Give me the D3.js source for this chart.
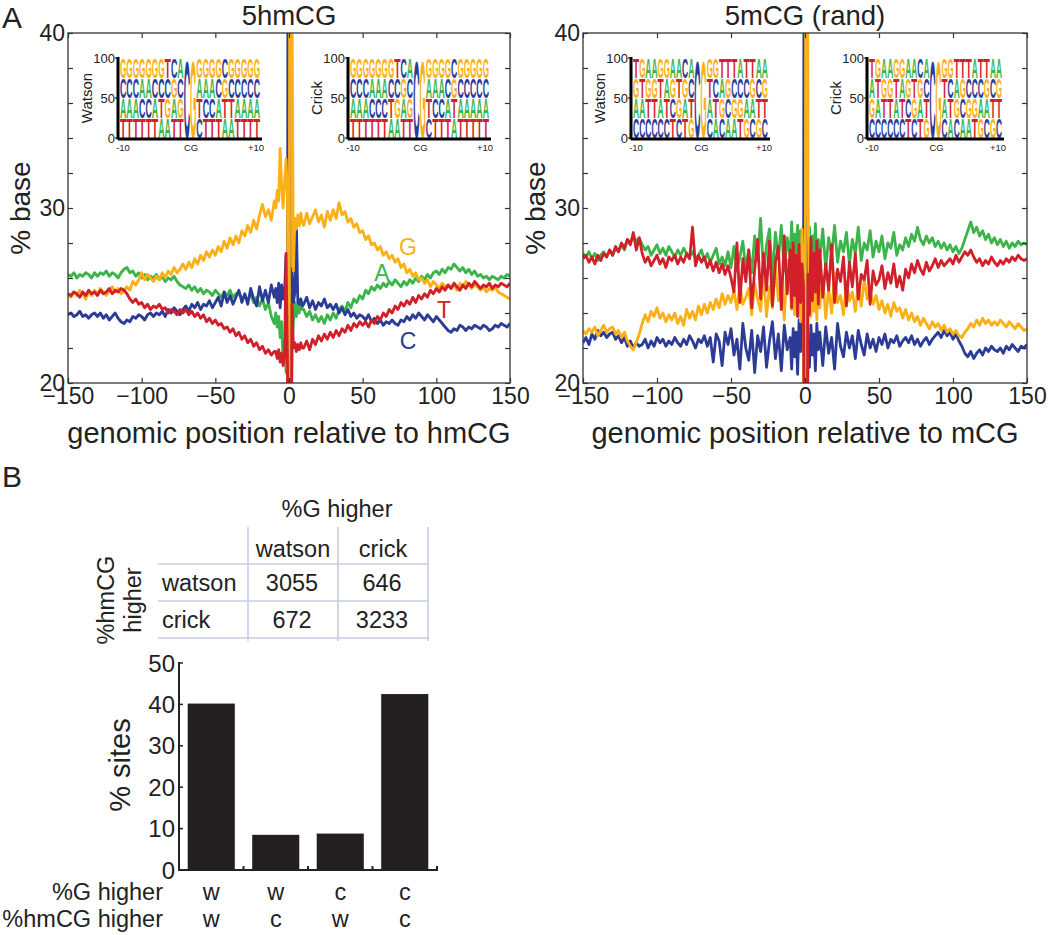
<!DOCTYPE html>
<html><head><meta charset="utf-8">
<script src="https://cdn.jsdelivr.net/npm/d3@7"></script>
<style>body{margin:0;background:#fff}svg{display:block;font-family:"Liberation Sans",Arial,sans-serif}</style>
</head><body><svg id="c" width="1050" height="935"></svg>
<script>
// ---------- DATA ----------
const positions = [...d3.range(-150,-8,2), ...d3.range(-9,10), ...d3.range(10,151,2)];
const xTicks = [-150,-100,-50,0,50,100,150];
const yTicks = [20,22,24,26,28,30,32,34,36,38,40];
const yTickLabels = [20,30,40];

// 5hmCG panel
const hmA = [
26.2,26.1,26.3,26.0,26.2,26.1,26.3,26.2,26.0,26.3,
26.1,26.3,26.2,26.4,26.1,26.3,26.2,26.0,26.3,26.5,
26.6,26.3,26.4,26.1,26.3,26.0,26.2,25.9,26.1,26.0,
26.2,25.9,26.1,25.8,26.0,25.9,26.1,25.8,25.6,25.5,
25.4,25.6,25.3,25.5,25.2,25.4,25.1,25.3,25.2,25.0,
25.3,25.1,24.9,25.2,25.0,25.3,24.9,25.1,25.2,24.8,
25.0,24.7,25.1,24.6,24.9,24.4,24.8,24.2,24.6,23.8,
23.4,
24.0,23.2,23.8,22.6,23.5,21.2,22.4,20.6,22.0,0,0,22.0,23.5,24.6,23.8,24.5,24.0,24.8,24.2,
24.2,23.8,24.1,23.6,23.9,23.5,23.8,23.4,23.9,23.6,
24.0,23.7,24.2,24.4,24.1,24.6,24.3,24.8,24.6,25.0,
24.8,25.3,25.1,25.5,25.3,25.6,25.4,25.7,25.5,25.8,
25.6,25.9,25.7,25.5,25.8,25.6,25.9,25.7,26.0,25.8,
26.1,25.9,26.2,26.0,26.3,26.4,26.2,26.5,26.3,26.6,
26.5,26.8,26.6,26.4,26.6,26.3,26.5,26.2,26.4,26.1,
26.2,26.0,26.1,25.9,26.1,26.0,25.9,26.1,26.0,26.2,
26.1];
const hmC = [
23.9,24.0,23.8,23.9,24.1,23.8,23.9,23.7,23.9,24.0,
23.8,24.0,23.7,23.9,23.6,23.8,24.0,23.7,23.5,23.4,
23.6,23.5,23.8,23.7,23.9,23.8,23.6,23.9,24.0,23.8,
24.0,23.9,24.1,23.8,24.2,24.0,24.3,24.1,23.9,24.2,
24.4,24.1,24.5,24.3,24.6,24.2,24.5,24.4,24.7,24.3,
24.6,24.9,24.4,25.2,24.6,25.0,24.5,24.9,25.3,24.6,
25.1,24.5,25.4,24.8,24.4,25.5,24.7,25.3,24.6,25.6,
24.9,
25.4,24.6,25.7,24.3,25.6,24.8,25.2,27.3,24.0,100,0,26.5,24.6,25.2,29.2,24.6,24.5,24.8,24.4,
24.5,24.9,24.3,24.7,24.2,24.6,24.4,24.8,24.3,24.5,
24.2,24.5,24.0,24.3,23.9,24.2,23.8,24.0,23.7,23.9,
23.8,23.6,23.9,23.5,23.7,23.4,23.6,23.3,23.5,23.4,
23.6,23.4,23.3,23.6,23.5,23.8,23.6,23.9,23.7,24.0,
23.8,23.6,23.9,23.7,23.5,23.8,23.6,23.4,23.2,23.0,
22.9,23.1,23.0,23.3,23.2,23.0,23.2,23.1,23.3,23.2,
23.1,23.3,23.2,23.0,23.1,23.3,23.2,23.4,23.3,23.2,
23.4];
const hmG = [
25.1,24.9,25.2,25.0,25.3,25.1,24.8,25.2,25.0,25.3,
25.1,25.4,25.2,25.0,25.3,25.5,25.2,25.4,25.1,25.3,
25.5,25.3,25.8,25.6,25.9,26.3,25.9,26.2,26.0,25.8,
26.1,25.9,26.3,26.0,26.4,26.2,26.6,26.3,26.5,26.8,
26.5,26.9,26.6,27.1,26.8,27.3,27.0,27.5,27.2,27.6,
27.3,27.8,27.5,28.1,27.7,28.3,27.9,28.4,28.0,28.7,
28.4,29.0,28.6,29.3,28.8,29.6,30.2,29.5,29.9,29.3,
30.4,
30.0,31.0,30.4,33.4,31.2,30.0,31.5,32.8,30.5,0,100,42,26.4,29.4,28.8,29.6,29.0,29.7,29.2,
29.0,29.7,29.1,29.5,29.9,29.2,29.6,28.9,29.8,29.3,
29.9,29.4,30.3,29.6,29.8,29.2,29.4,28.9,29.1,28.6,
28.7,28.2,28.4,27.9,28.0,27.6,27.8,27.3,27.5,27.1,
27.3,26.9,27.1,26.6,26.8,26.3,26.5,26.1,26.3,25.9,
26.0,25.7,25.9,25.5,25.8,25.6,25.4,25.7,25.5,25.6,
25.4,25.6,25.3,25.7,25.5,25.8,25.6,25.4,25.6,25.5,
25.3,25.5,25.2,25.4,25.3,25.5,25.2,25.1,25.0,24.9,
24.8];
const hmT = [
25.1,25.0,25.2,25.1,24.9,25.2,25.0,25.3,25.1,25.2,
25.0,25.3,25.1,25.2,25.4,25.1,25.3,25.2,25.4,25.3,
25.1,24.8,24.6,24.8,24.5,24.6,24.3,24.5,24.2,24.4,
24.3,24.5,24.2,24.3,24.0,24.2,24.1,23.9,24.2,24.0,
24.2,23.9,24.1,23.8,24.0,23.7,23.9,23.5,23.7,23.4,
23.6,23.3,23.4,23.1,23.2,22.9,23.1,22.7,22.9,22.5,
22.7,22.3,22.5,22.1,22.3,21.9,22.1,21.7,21.9,21.6,
21.8,
21.8,21.4,21.9,21.2,21.7,21.0,21.5,27.4,21.0,0,0,24.5,22.0,22.3,21.8,22.2,21.9,22.3,22.0,
22.0,22.4,21.9,22.5,22.2,22.7,22.4,22.8,22.5,22.9,
22.6,23.0,22.7,23.1,22.9,23.3,23.0,23.4,23.2,23.5,
23.3,23.5,23.2,23.6,23.4,23.8,23.6,24.0,23.8,24.2,
24.0,24.4,24.2,24.6,24.4,24.7,24.5,24.9,24.6,25.0,
24.8,25.1,24.9,25.3,25.1,25.4,25.2,25.5,25.3,25.6,
25.4,25.7,25.5,25.3,25.6,25.4,25.7,25.5,25.8,25.6,
25.4,25.6,25.5,25.7,25.4,25.6,25.5,25.7,25.6,25.5,
25.7];

// 5mCG (rand) panel
const rdA = [
27.4,27.2,27.5,27.1,27.4,27.0,27.3,27.5,27.2,27.6,
27.3,27.7,27.5,27.9,27.6,28.2,28.0,28.4,28.1,28.3,
27.9,27.6,27.8,27.3,27.6,27.9,27.4,27.7,27.3,27.8,
27.5,27.2,27.6,27.3,27.7,27.4,27.2,27.5,27.1,27.3,
27.6,27.0,27.4,26.9,27.3,27.7,26.8,27.2,26.7,27.5,
26.6,27.8,26.4,27.2,28.1,26.5,27.6,26.3,28.4,27.0,
29.4,26.2,27.9,28.8,26.0,28.6,27.1,29.0,26.4,28.3,
27.2,
29.2,26.8,28.5,27.4,29.0,26.3,28.7,27.6,28.9,0,0,27.5,28.9,26.7,28.4,27.0,29.1,26.6,28.2,
27.1,28.8,26.5,28.3,27.3,29.0,26.9,28.1,27.5,28.6,
26.8,28.2,27.4,28.9,27.0,28.0,27.6,28.7,27.2,28.1,
27.5,28.4,27.1,28.0,27.7,28.6,27.3,27.9,27.6,28.3,
27.8,28.5,28.1,28.9,28.2,27.9,28.4,28.0,28.3,27.8,
28.1,27.7,28.0,27.6,27.9,27.5,27.8,27.4,27.7,28.2,
28.7,29.2,28.6,28.9,28.4,28.7,28.2,28.5,28.0,28.3,
27.9,28.2,27.8,28.1,27.7,28.0,27.8,28.1,27.9,28.0,
27.9];
const rdC = [
22.3,22.6,22.2,22.8,22.5,23.0,22.7,22.9,22.6,22.8,
22.9,22.5,22.7,22.3,22.6,22.1,22.4,22.0,22.3,22.1,
22.2,22.5,22.0,22.4,22.1,22.6,22.3,22.5,22.1,22.4,
22.2,22.6,22.3,22.1,22.5,22.2,22.7,22.4,22.0,22.5,
22.3,22.7,22.1,22.6,21.2,22.8,22.4,21.0,22.9,22.2,
23.1,21.6,22.5,20.8,23.4,22.0,21.3,23.0,20.6,22.7,
21.8,23.2,20.9,22.4,23.5,21.4,22.8,20.7,23.3,21.9,
22.6,
20.8,23.1,21.5,22.9,20.5,23.6,21.8,24.8,22.0,100,0,22.4,20.9,23.3,21.6,22.8,20.7,23.4,21.9,
22.9,21.0,23.2,21.7,22.6,20.8,23.4,22.1,21.5,22.9,
22.0,22.7,21.4,23.0,22.2,21.6,22.8,22.0,22.5,21.8,
22.6,22.2,22.8,22.0,22.5,22.3,22.7,22.1,22.4,22.6,
22.3,22.7,22.2,22.5,22.1,22.4,22.6,22.2,22.5,22.7,
22.9,22.6,23.0,22.7,22.9,22.5,22.8,22.4,22.1,21.7,
21.5,21.8,21.4,21.7,21.9,21.6,22.0,21.8,22.1,21.9,
21.8,22.0,21.7,22.1,21.9,22.2,22.0,21.8,22.1,22.0,
22.2];
const rdG = [
23.0,22.8,23.1,22.9,23.2,22.7,23.0,23.3,22.9,23.1,
23.2,22.8,23.0,22.6,22.9,22.4,22.1,21.9,22.3,22.8,
23.4,23.9,23.5,24.1,23.8,24.3,23.7,24.0,23.5,23.9,
23.6,24.0,23.4,23.8,23.3,24.2,23.7,24.1,23.6,24.4,
23.9,24.5,24.0,24.6,24.2,24.8,24.3,25.1,24.5,25.0,
24.6,25.3,24.2,25.6,24.5,24.9,25.4,23.9,25.7,24.8,
24.1,26.2,23.8,25.5,24.3,26.8,24.7,25.9,23.6,27.0,
25.4,
24.2,26.5,23.9,27.3,24.8,25.6,23.5,28.8,26.0,0,100,30.8,25.2,23.8,26.4,24.1,25.7,23.6,26.0,
24.3,26.1,23.7,25.4,24.0,26.3,24.6,25.0,23.9,25.8,
24.7,25.2,24.1,25.6,24.4,25.9,24.8,25.3,24.5,25.0,
24.2,24.7,24.0,24.5,23.8,24.6,24.1,24.3,23.7,24.2,
23.6,24.0,23.5,23.8,23.3,23.7,23.4,23.1,23.5,23.2,
23.4,23.0,23.3,22.9,23.1,22.8,23.0,22.7,22.6,22.9,
23.1,23.4,23.2,23.6,23.3,23.7,23.4,23.6,23.3,23.5,
23.3,23.6,23.4,23.2,23.5,23.3,23.1,23.4,23.2,23.0,
23.1];
const rdT = [
27.1,27.3,26.9,27.2,26.8,27.3,27.0,27.4,27.2,27.6,
27.3,27.8,27.5,28.0,27.7,28.2,27.9,28.6,27.6,28.3,
27.4,26.9,27.2,26.7,27.0,27.3,26.8,27.1,26.6,27.2,
27.0,27.3,26.8,27.2,26.9,27.4,27.1,28.9,26.7,27.3,
26.9,27.2,26.6,27.0,26.4,26.9,26.3,26.8,26.2,26.7,
26.0,25.2,28.0,24.6,27.1,25.8,27.6,24.3,26.5,28.2,
24.8,27.4,25.3,28.1,24.4,26.9,27.8,24.2,28.4,25.1,
27.6,
24.3,28.0,25.0,27.3,23.8,27.9,24.6,26.8,25.5,0,0,26.2,23.9,28.3,24.7,27.4,25.2,28.1,24.5,
27.6,24.9,26.8,25.3,27.9,24.6,26.5,25.8,27.2,24.4,
26.9,25.5,27.4,24.8,26.2,25.9,27.0,24.5,26.4,25.6,
25.9,26.7,25.4,26.3,25.7,26.8,25.5,26.1,25.3,26.5,
26.0,26.8,26.3,27.0,26.5,26.2,26.9,26.4,26.7,27.1,
26.6,27.0,26.7,26.9,27.1,26.8,27.3,26.9,27.2,27.5,
27.3,27.6,27.2,26.9,27.1,26.7,27.0,26.8,27.2,26.9,
26.7,27.0,26.8,27.1,26.9,27.2,27.0,27.3,27.1,27.0,
27.1];

// sequence logos (rows top -> bottom; blank = column filled by one letter)
const logoHmWatson = ["GGGGGGGTCACGGGGGCGGGGG","CCCAACCCGC  AAACGCCCCC","AAACCATGAG  TCCATTAAAA","TTTTTTAATT  CTTTAATTTT"];
const logoHmCrick  = ["GGGGGGGTCACGGGGGCGGGGG","CCCAAACCGC  AAACGCCCCC","AAACCCTGAG  TCCATAAAAA","TTTTTTAATT  CTTTATTTTT"];
const logoRdWatson = ["TGAAGGAACACGGGTTTATTAA","GTGGTAGTGC  TCAGCCCGCG","AATTATCGAT  ATGCGGAATT","CCCCCCTCTG  CACAATGCGC"];
const logoRdCrick  = ["TGAAGGAACACGGGTTTATTAA","ATGGTAGTGC  TCAGCCCGCG","GATTATCGAT  ATGCGGAATT","CCCCCCTCTG  CACAATGCGC"];
const logoTicks = [0,50,100];

// panel B
const tableCols = ["watson","crick"];
const tableRows = ["watson","crick"];
const tableVals = [[3055,646],[672,3233]];
const barCats = ["ww","wc","cw","cc"];
const barGHigher = ["w","w","c","c"];
const barHmHigher = ["w","c","w","c"];
const barVals = [40.2,8.5,8.8,42.5];
const barTicks = [0,10,20,30,40,50];

// ---------- DRAW ----------
const col = {A:"#3bb44a", C:"#2c3c96", G:"#fbb017", T:"#d2202a"};
const svg = d3.select("#c");
const FONT = '"Liberation Sans",Arial,sans-serif';

function panel(x0,x1,title,ser,xlabel,id){
  const yTop=33, yBot=383;
  const x = d3.scaleLinear().domain([-150,150]).range([x0,x1]);
  const y = d3.scaleLinear().domain([20,40]).range([yBot,yTop]);
  const g = svg.append("g");
  g.append("clipPath").attr("id",id).append("rect").attr("x",x0).attr("y",yTop).attr("width",x1-x0).attr("height",yBot-yTop);
  const line = d3.line().x((d,i)=>x(positions[i])).y(d=>y(d));
  const lg = g.append("g").attr("clip-path",`url(#${id})`);
  [["A",ser.A],["C",ser.C],["G",ser.G],["T",ser.T]].forEach(([k,v])=>{
    lg.append("path").datum(v).attr("d",line).attr("fill","none").attr("stroke",col[k])
      .attr("stroke-width",2.8).attr("stroke-linejoin","round");
  });
  g.append("rect").attr("x",x0).attr("y",yTop).attr("width",x1-x0).attr("height",yBot-yTop)
    .attr("fill","none").attr("stroke","#333").attr("stroke-width",1.3);
  const ax = (sel)=>{sel.select(".domain").remove(); sel.selectAll("line").attr("stroke","#333").attr("stroke-width",1.2);
    sel.selectAll("text").attr("font-size",23).attr("font-family",FONT).attr("fill","#222");};
  g.append("g").attr("transform",`translate(0,${yBot})`).call(d3.axisBottom(x).tickValues(xTicks).tickSize(-5).tickPadding(5)).call(ax);
  g.append("g").attr("transform",`translate(0,${yTop})`).call(d3.axisTop(x).tickValues(xTicks).tickSize(-5).tickFormat("")).call(ax);
  g.append("g").attr("transform",`translate(${x0},0)`).call(d3.axisLeft(y).tickValues(yTicks).tickSize(-5).tickPadding(3)
     .tickFormat(d=>yTickLabels.includes(d)?d:"")).call(ax);
  g.append("g").attr("transform",`translate(${x1},0)`).call(d3.axisRight(y).tickValues(yTicks).tickSize(-5).tickFormat("")).call(ax);
  g.append("text").attr("x",(x0+x1)/2).attr("y",25).attr("text-anchor","middle").attr("font-size",27.5).attr("fill","#222").text(title);
  g.append("text").attr("x",(x0+x1)/2).attr("y",443).attr("text-anchor","middle").attr("font-size",29).attr("fill","#222").text(xlabel);
  g.append("text").attr("transform",`translate(${x0-38},208) rotate(-90)`).attr("text-anchor","middle").attr("font-size",28).attr("fill","#222").text("% base");
  return {x,y,g};
}

const adv = {A:0.722,C:0.722,G:0.778,T:0.611};
function logo(axX,xEnd,rows,side){
  const yTop=58, yBot=138;
  const yl = d3.scaleLinear().domain([0,100]).range([yBot,yTop]);
  const n = rows[0].length;
  const bx = d3.scaleBand().domain(d3.range(n)).range([axX+2,xEnd]);
  const g = svg.append("g");
  for(let i=0;i<n;i++){
    const letters = rows.map(r=>r[i]).filter(c=>c!==" ");
    const h = 100/letters.length;
    letters.forEach((L,k)=>{
      const vt = 100-k*h, vb = 100-(k+1)*h;
      const hp = yl(vb)-yl(vt)-0.6, w = bx.bandwidth();
      g.append("text").text(L).attr("font-size",100).attr("font-weight","bold").attr("fill",col[L])
        .attr("transform",`translate(${bx(i)},${yl(vb)}) scale(${w/(adv[L]*100)},${hp/72})`);
    });
  }
  g.append("line").attr("x1",axX).attr("x2",axX).attr("y1",yTop-1).attr("y2",yBot+1.5).attr("stroke","#000").attr("stroke-width",3);
  g.append("line").attr("x1",axX).attr("x2",xEnd+2).attr("y1",yBot+1).attr("y2",yBot+1).attr("stroke","#000").attr("stroke-width",3);
  logoTicks.forEach(t=>{
    g.append("line").attr("x1",axX-3).attr("x2",axX).attr("y1",yl(t)).attr("y2",yl(t)).attr("stroke","#000").attr("stroke-width",1);
    g.append("text").attr("x",axX-3).attr("y",yl(t)+4.5).attr("text-anchor","end").attr("font-size",13).attr("fill","#222").text(t);
  });
  g.append("text").attr("transform",`translate(${axX-26},98) rotate(-90)`).attr("text-anchor","middle").attr("font-size",15).attr("fill","#222").text(side);
  [["-10",axX+5],["CG",(axX+xEnd)/2+2],["+10",xEnd-4]].forEach(([t,xx])=>{
    g.append("text").attr("x",xx).attr("y",151).attr("text-anchor","middle").attr("font-size",9.5).attr("fill","#222").text(t);
  });
}

panel(68,510,"5hmCG",{A:hmA,C:hmC,G:hmG,T:hmT},"genomic position relative to hmCG","clipL");
panel(583,1027,"5mCG (rand)",{A:rdA,C:rdC,G:rdG,T:rdT},"genomic position relative to mCG","clipR");
logo(118,260,logoHmWatson,"Watson");
logo(348,489,logoHmCrick,"Crick");
logo(631,768,logoRdWatson,"Watson");
logo(867,1002,logoRdCrick,"Crick");

[["G",408,255],["A",382,281],["T",444,318],["C",408,349]].forEach(([t,xx,yy])=>{
  svg.append("text").attr("x",xx).attr("y",yy).attr("text-anchor","middle").attr("font-size",23).attr("fill",col[t]).text(t);
});

svg.append("text").attr("x",2).attr("y",28).attr("font-size",30).attr("fill","#222").text("A");
svg.append("text").attr("x",2).attr("y",487).attr("font-size",30).attr("fill","#222").text("B");

// table
const tx = d3.scaleBand().domain(["",...tableCols]).range([158,428]);
const ty = d3.scaleBand().domain(["",...tableRows]).range([527,638]);
const tg = svg.append("g");
const lineCol = "#c6cee2";
tableRows.forEach(r=>{
  tg.append("line").attr("x1",158).attr("x2",429).attr("y1",ty(r)).attr("y2",ty(r)).attr("stroke",lineCol).attr("stroke-width",1.6);
});
tg.append("line").attr("x1",158).attr("x2",429).attr("y1",638).attr("y2",638).attr("stroke",lineCol).attr("stroke-width",1.6);
tableCols.forEach(c=>{
  tg.append("line").attr("x1",tx(c)).attr("x2",tx(c)).attr("y1",527).attr("y2",641).attr("stroke",lineCol).attr("stroke-width",1.6);
});
tg.append("line").attr("x1",428).attr("x2",428).attr("y1",527).attr("y2",641).attr("stroke",lineCol).attr("stroke-width",1.6);
tableCols.forEach(c=>{
  tg.append("text").attr("x",tx(c)+tx.bandwidth()/2).attr("y",557).attr("text-anchor","middle").attr("font-size",23.5).attr("fill","#222").text(c);
});
tableRows.forEach((r,i)=>{
  const yy = ty(r)+ty.bandwidth()/2+8.5;
  tg.append("text").attr("x",162).attr("y",yy).attr("font-size",23.5).attr("fill","#222").text(r);
  tableCols.forEach((c,j)=>{
    tg.append("text").attr("x",tx(c)+tx.bandwidth()/2-1).attr("y",yy).attr("text-anchor","middle").attr("font-size",23.5).attr("fill","#222").text(tableVals[i][j]);
  });
});
tg.append("text").attr("x",337).attr("y",517).attr("text-anchor","middle").attr("font-size",23.5).attr("fill","#222").text("%G higher");
tg.append("text").attr("transform","translate(114,600) rotate(-90)").attr("text-anchor","middle").attr("font-size",23.5).attr("fill","#222").text("%hmCG");
tg.append("text").attr("transform","translate(141,600) rotate(-90)").attr("text-anchor","middle").attr("font-size",23.5).attr("fill","#222").text("higher");

// bar chart
const bx = d3.scaleBand().domain(barCats).range([179,437]).paddingInner(0.27).paddingOuter(0.135);
const by = d3.scaleLinear().domain([0,50]).range([870,663]);
const bg = svg.append("g");
bg.selectAll("rect").data(barVals).join("rect")
  .attr("x",(d,i)=>bx(barCats[i])).attr("width",bx.bandwidth())
  .attr("y",d=>by(d)).attr("height",d=>by(0)-by(d)).attr("fill","#231f20");
bg.append("line").attr("x1",179).attr("x2",179).attr("y1",662).attr("y2",871).attr("stroke","#222").attr("stroke-width",2);
bg.append("line").attr("x1",178).attr("x2",438).attr("y1",870).attr("y2",870).attr("stroke","#222").attr("stroke-width",2);
barTicks.forEach(t=>{
  bg.append("line").attr("x1",179).attr("x2",183).attr("y1",by(t)).attr("y2",by(t)).attr("stroke","#222").attr("stroke-width",1.5);
  bg.append("text").attr("x",175).attr("y",by(t)+8.5).attr("text-anchor","end").attr("font-size",24).attr("fill","#222").text(t);
});
barCats.forEach(c=>{
  const xb = bx(c)+bx.bandwidth()+bx.step()*bx.paddingInner()/2;
  bg.append("line").attr("x1",xb).attr("x2",xb).attr("y1",870).attr("y2",866).attr("stroke","#222").attr("stroke-width",2);
});
bg.append("text").attr("transform","translate(130,765) rotate(-90)").attr("text-anchor","middle").attr("font-size",29).attr("fill","#222").text("% sites");
bg.append("text").attr("x",163).attr("y",900).attr("text-anchor","end").attr("font-size",23.5).attr("fill","#222").text("%G higher");
bg.append("text").attr("x",163).attr("y",927).attr("text-anchor","end").attr("font-size",23.5).attr("fill","#222").text("%hmCG higher");
barCats.forEach((c,i)=>{
  const xc = bx(c)+bx.bandwidth()/2;
  bg.append("text").attr("x",xc).attr("y",900).attr("text-anchor","middle").attr("font-size",23.5).attr("fill","#222").text(barGHigher[i]);
  bg.append("text").attr("x",xc).attr("y",927).attr("text-anchor","middle").attr("font-size",23.5).attr("fill","#222").text(barHmHigher[i]);
});
</script></body></html>
